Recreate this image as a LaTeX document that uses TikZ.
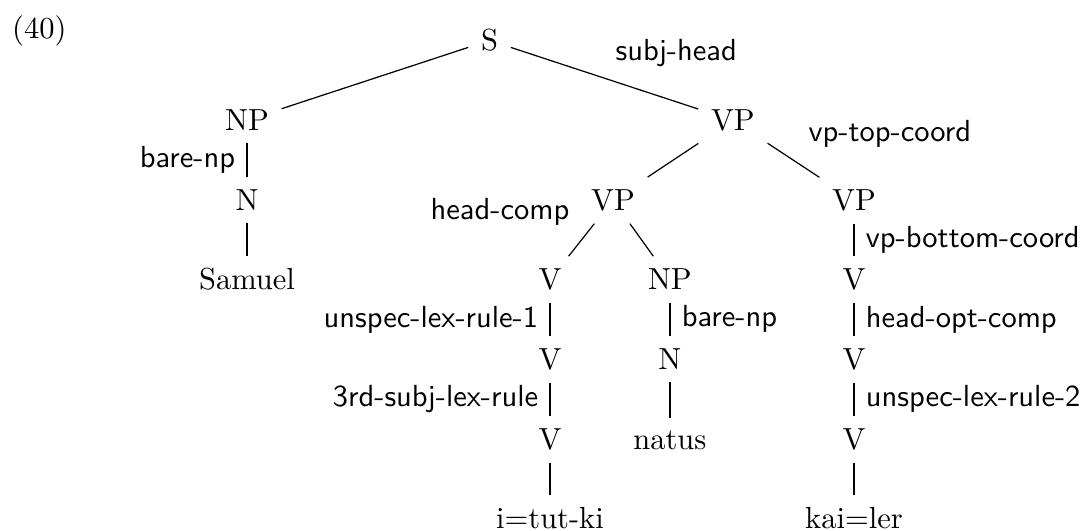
\documentclass[tikz,border=0pt]{standalone}
\usepackage{tikz}
\tikzset{
  kat/.style={anchor=base,inner sep=4pt},
  regel/.style={font=\sffamily,inner sep=3.7pt},
  frei/.style={font=\sffamily,inner sep=0pt},
}

\begin{document}
\begin{tikzpicture}[line width=0.4pt]
  \useasboundingbox (0,0) rectangle (12.503,6.119);
  \node[anchor=base west,inner sep=0pt] (nr) at (0.133,5.675) {(40)};
  % Kategorien
  \node[kat] (s) at (5.641,5.533) {S};
  \node[kat] (np) at (2.846,4.615) {NP};
  \node[kat] (n) at (2.846,3.697) {N};
  \node[kat] (samuel) at (2.846,2.779) {Samuel};
  \node[kat] (vp) at (8.446,4.615) {VP};
  \node[kat] (vpa) at (7.064,3.697) {VP};
  \node[kat] (vpb) at (9.841,3.697) {VP};
  \node[kat] (va1) at (6.338,2.779) {V};
  \node[kat] (va2) at (6.338,1.861) {V};
  \node[kat] (va3) at (6.338,0.943) {V};
  \node[kat] (tut) at (6.338,0.025) {i=tut-ki};
  \node[kat] (npb) at (7.720,2.779) {NP};
  \node[kat] (nb) at (7.720,1.861) {N};
  \node[kat] (natus) at (7.720,0.943) {natus};
  \node[kat] (vb1) at (9.841,2.779) {V};
  \node[kat] (vb2) at (9.841,1.861) {V};
  \node[kat] (vb3) at (9.841,0.943) {V};
  \node[kat] (kai) at (9.841,0.025) {kai=ler};
  % Regeln an den Verzweigungen
  \node[frei,anchor=base west] (subjhead) at (7.087,5.427) {subj-head};
  \node[frei,anchor=base west] (vptop) at (9.311,4.494) {vp-top-coord};
  \node[frei,anchor=base east] (headcomp) at (6.568,3.584) {head-comp};
  % Kanten
  \draw (s) -- (np);
  \draw (s) -- (vp);
  \draw (np) -- node[regel,left] (r1) {bare-np} (n);
  \draw (n) -- (samuel);
  \draw (vp) -- (vpa);
  \draw (vp) -- (vpb);
  \draw (vpa) -- (va1);
  \draw (vpa) -- (npb);
  \draw (vpb) -- node[regel,right] (r2) {vp-bottom-coord} (vb1);
  \draw (va1) -- node[regel,left] (r3) {unspec-lex-rule-1} (va2);
  \draw (va2) -- node[regel,left] (r4) {3rd-subj-lex-rule} (va3);
  \draw (va3) -- (tut);
  \draw (npb) -- node[regel,right] (r5) {bare-np} (nb);
  \draw (nb) -- (natus);
  \draw (vb1) -- node[regel,right] (r6) {head-opt-comp} (vb2);
  \draw (vb2) -- node[regel,right] (r7) {unspec-lex-rule-2} (vb3);
  \draw (vb3) -- (kai);
\end{tikzpicture}
\end{document}
